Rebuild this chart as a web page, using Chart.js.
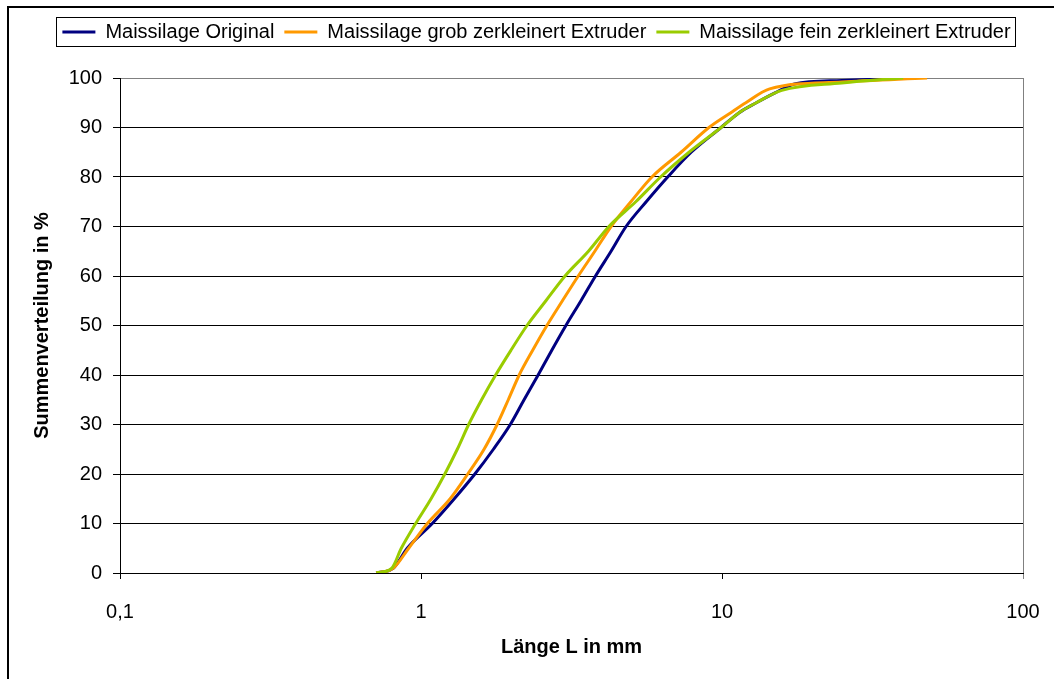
<!DOCTYPE html>
<html>
<head>
<meta charset="utf-8">
<script src="https://cdn.jsdelivr.net/npm/chart.js@4/dist/chart.umd.min.js"></script>
<style>
  html, body { margin: 0; padding: 0; background: #fff; }
  #wrap { width: 1054px; height: 679px; }
</style>
</head>
<body>
<div id="wrap"><canvas id="sumChart" width="1054" height="679"></canvas></div>
<script>
const seriesNames = ['Maissilage Original', 'Maissilage grob zerkleinert Extruder', 'Maissilage fein zerkleinert Extruder'];
const seriesColors = ['#000080', '#FF9900', '#99CC00'];

// Länge L in mm / Summenverteilung in %
const originalLength = [0.71, 0.81, 0.90, 1.09, 1.29, 1.51, 1.74, 1.98, 2.20, 2.45, 2.72, 3.03, 3.40, 3.80, 4.28, 4.80, 5.60, 6.60, 7.90, 9.93, 11.4, 13.0, 15.0, 17.4, 25.0, 41.0];
const originalShare = [0, 1, 5, 10, 15, 20, 25, 30, 35, 40, 45, 50, 55, 60, 65, 70, 75, 80, 85, 90, 93, 95, 97, 98.8, 99.5, 100];

const grobLength = [0.71, 0.81, 0.91, 1.05, 1.25, 1.43, 1.62, 1.79, 1.95, 2.12, 2.35, 2.62, 2.95, 3.33, 3.78, 4.28, 4.98, 5.85, 7.31, 9.05, 10.7, 12.0, 14.4, 25.0, 48.0];
const grobShare = [0, 1, 5, 10, 15, 20, 25, 30, 35, 40, 45, 50, 55, 60, 65, 70, 75, 80, 85, 90, 93, 95, 97.8, 99.2, 100];

const feinLength = [0.71, 0.80, 0.86, 0.96, 1.08, 1.20, 1.32, 1.44, 1.59, 1.77, 1.99, 2.25, 2.60, 3.01, 3.60, 4.21, 5.17, 6.25, 7.77, 9.93, 11.4, 13.0, 15.8, 25.0, 40.0];
const feinShare = [0, 1, 5, 10, 15, 20, 25, 30, 35, 40, 45, 50, 55, 60, 65, 70, 75, 80, 85, 90, 93, 95, 97.5, 99.0, 100];

const xTickValues = [0.1, 1, 10, 100];
const xTickLabels = ['0,1', '1', '10', '100'];

const lengths = [originalLength, grobLength, feinLength];
const shares = [originalShare, grobShare, feinShare];

Chart.defaults.font.family = "'Liberation Sans', Arial, sans-serif";
Chart.defaults.font.size = 20;
Chart.defaults.color = '#000';

// white background, outer frame and legend box
const framePlugin = {
  id: 'frame',
  beforeDraw(chart) {
    const { ctx } = chart;
    ctx.save();
    ctx.fillStyle = '#fff';
    ctx.fillRect(0, 0, chart.width, chart.height);
    ctx.restore();
  },
  afterDraw(chart) {
    const { ctx } = chart;
    ctx.save();
    ctx.strokeStyle = '#000';
    ctx.lineWidth = 2;
    ctx.strokeRect(8, 7, 1200, 1000);
    const boxes = chart.legend.legendHitBoxes;
    if (boxes && boxes.length) {
      const left = Math.min(...boxes.map((b) => b.left)) - 6;
      const right = Math.max(...boxes.map((b) => b.left + b.width)) + 5;
      const top = boxes[0].top - 5;
      ctx.lineWidth = 1;
      ctx.strokeRect(Math.round(left) + 0.5, Math.round(top) + 0.5, Math.round(right - left), 29);
    }
    ctx.restore();
  },
};

function buildChart() {
  const datasets = [];
  for (let i = 0; i < seriesNames.length; i += 1) {
    datasets.push({
      label: seriesNames[i],
      data: lengths[i].map((v, j) => ({ x: v, y: shares[i][j] })),
      borderColor: seriesColors[i],
      backgroundColor: seriesColors[i],
      borderWidth: 3,
      pointRadius: 0,
      cubicInterpolationMode: 'monotone',
      order: seriesNames.length - i,
    });
  }

  const config = {
    type: 'line',
    data: { datasets },
    plugins: [framePlugin],
    options: {
      responsive: false,
      devicePixelRatio: 1,
      animation: false,
      layout: { padding: { left: 50, right: 31, top: 12, bottom: 0 } },
      plugins: {
        tooltip: { enabled: false },
        legend: {
          position: 'top',
          labels: {
            boxWidth: 33,
            boxHeight: 3,
            padding: 10,
            font: { size: 20 },
            sort: (a, b) => a.datasetIndex - b.datasetIndex,
            generateLabels: (chart) => Chart.defaults.plugins.legend.labels.generateLabels(chart)
              .map((item) => ({ ...item, lineWidth: 0, fillStyle: item.strokeStyle })),
          },
        },
        subtitle: {
          display: true,
          text: '',
          weight: 100,
          padding: 0,
          font: { size: 26, lineHeight: 1 },
        },
      },
      scales: {
        x: {
          type: 'logarithmic',
          min: 0.1,
          max: 100,
          afterBuildTicks: (scale) => { scale.ticks = xTickValues.map((v) => ({ value: v })); },
          afterFit: (scale) => { scale.height = 106; },
          ticks: {
            autoSkip: false,
            maxRotation: 0,
            padding: 14,
            font: { size: 20, lineHeight: 1.9 },
            callback: (value) => xTickLabels[xTickValues.indexOf(value)],
          },
          grid: {
            drawOnChartArea: true,
            color: (ctx) => (ctx.tick && ctx.tick.value === 100 ? '#808080' : 'rgba(0,0,0,0)'),
            tickColor: (ctx) => (ctx.tick && ctx.tick.value === 100 ? '#808080' : '#000'),
            tickLength: 6,
          },
          border: { color: '#000' },
          title: {
            display: true,
            text: 'Länge L in mm',
            font: { size: 20, weight: 'bold' },
            padding: { top: 0, bottom: 20 },
          },
        },
        y: {
          min: 0,
          max: 100,
          afterFit: (scale) => { scale.width = 70; },
          ticks: { stepSize: 10, padding: 11, font: { size: 20 } },
          grid: {
            color: (ctx) => (ctx.tick && ctx.tick.value === 100 ? '#808080' : '#000'),
            tickColor: '#000',
            tickLength: 7,
          },
          border: { color: '#000' },
          title: {
            display: true,
            text: 'Summenverteilung in %',
            font: { size: 20, weight: 'bold' },
            padding: { top: -20, bottom: 0 },
          },
        },
      },
    },
  };

  return new Chart(document.getElementById('sumChart'), config);
}

buildChart();
</script>
</body>
</html>
